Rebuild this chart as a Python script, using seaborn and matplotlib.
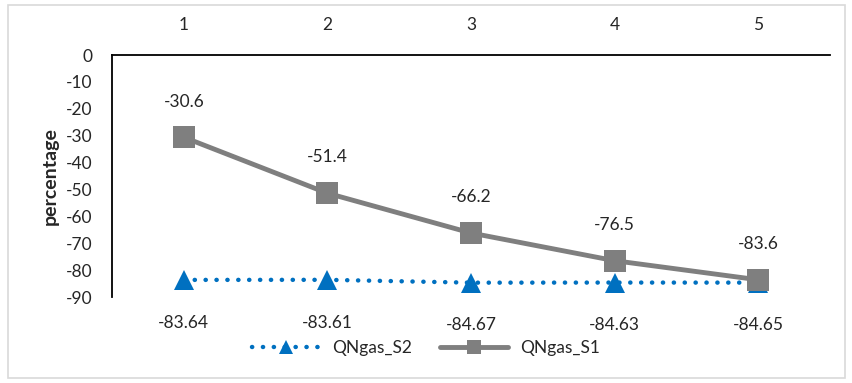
import matplotlib
matplotlib.use("Agg")
import matplotlib.pyplot as plt
import seaborn as sns
import pandas as pd
from matplotlib.patches import Rectangle

categories = [1, 2, 3, 4, 5]
qngas_s2 = [-83.64, -83.61, -84.67, -84.63, -84.65]
qngas_s1 = [-30.6, -51.4, -66.2, -76.5, -83.6]
s2_labels = ["-83.64", "-83.61", "-84.67", "-84.63", "-84.65"]
s1_labels = ["-30.6", "-51.4", "-66.2", "-76.5", "-83.6"]
y_ticks = [0, -10, -20, -30, -40, -50, -60, -70, -80, -90]

sns.set_theme(style="white")
plt.rcParams["font.family"] = ["Lato", "DejaVu Sans"]

BLUE = "#0070C0"
GREY = "#7F7F7F"
FS = 12.5

df = pd.DataFrame({"cat": categories, "S2": qngas_s2, "S1": qngas_s1})

fig = plt.figure(figsize=(8.52, 3.83), dpi=100)
ax = fig.add_axes([112 / 852, 1 - 297 / 383, (830 - 112) / 852, (297 - 55) / 383])

sns.lineplot(data=df, x="cat", y="S2", ax=ax, color=BLUE, linewidth=3.2,
             linestyle=(0, (0.05, 2.4)), dash_capstyle="round",
             marker="^", markersize=15, markeredgewidth=0, label="QNgas_S2")
sns.lineplot(data=df, x="cat", y="S1", ax=ax, color=GREY, linewidth=3.5,
             marker="s", markersize=16, markeredgewidth=0, label="QNgas_S1")

ax.set_xlim(0.5, 5.5)
ax.set_ylim(-90, 0)
ax.set_yticks(y_ticks)
ax.set_yticklabels([str(v) for v in y_ticks], fontsize=FS)
ax.set_xticks(categories)
ax.set_xticklabels([str(c) for c in categories], fontsize=FS)
ax.xaxis.tick_top()
ax.tick_params(axis="x", top=False, bottom=False, pad=10)
ax.tick_params(axis="y", left=False, pad=8)
ax.set_xlabel("")
ax.set_ylabel("percentage", fontsize=14, fontweight="bold", labelpad=5)

for side in ["right", "bottom"]:
    ax.spines[side].set_visible(False)
for side in ["left", "top"]:
    ax.spines[side].set_color("black")
    ax.spines[side].set_linewidth(1.3)

for x, y, t in zip(categories, qngas_s1, s1_labels):
    ax.annotate(t, (x, y), xytext=(0, 20), textcoords="offset points",
                ha="center", va="bottom", fontsize=FS)
for x, y, t in zip(categories, qngas_s2, s2_labels):
    ax.annotate(t, (x, y), xytext=(0, -25), textcoords="offset points",
                ha="center", va="top", fontsize=FS)

ax.legend(loc="center", bbox_to_anchor=(0.5, (383 - 348) / 383), bbox_transform=fig.transFigure,
          ncol=2, frameon=False, fontsize=FS, handlelength=3.9, handletextpad=0.7,
          columnspacing=1.6, markerscale=0.65)

fig.patches.append(Rectangle((8 / 852, 5 / 383), (845 - 8) / 852, (378 - 5) / 383,
                             transform=fig.transFigure, fill=False,
                             edgecolor="#D9D9D9", linewidth=1.2))

fig.savefig("out.png", dpi=100, facecolor="white")
